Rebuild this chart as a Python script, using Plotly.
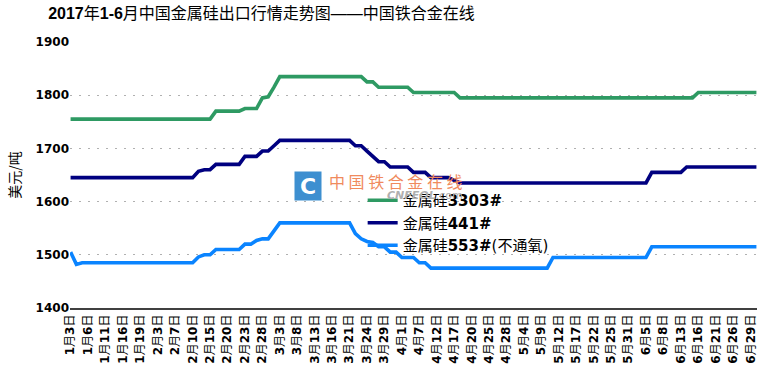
import plotly.graph_objects as go

dates = [
    "1月3日", "1月4日", "1月5日", "1月6日", "1月9日", "1月10日", "1月11日", "1月12日", "1月13日", "1月16日",
    "1月17日", "1月18日", "1月19日", "1月20日", "1月23日", "2月3日", "2月4日", "2月6日", "2月7日", "2月8日",
    "2月9日", "2月10日", "2月13日", "2月14日", "2月15日", "2月16日", "2月17日", "2月20日", "2月21日", "2月22日",
    "2月23日", "2月24日", "2月27日", "2月28日", "3月1日", "3月2日", "3月3日", "3月6日", "3月7日", "3月8日",
    "3月9日", "3月10日", "3月13日", "3月14日", "3月15日", "3月16日", "3月17日", "3月20日", "3月21日", "3月22日",
    "3月23日", "3月24日", "3月27日", "3月28日", "3月29日", "3月30日", "3月31日", "4月1日", "4月5日", "4月6日",
    "4月7日", "4月10日", "4月11日", "4月12日", "4月13日", "4月14日", "4月17日", "4月18日", "4月19日", "4月20日",
    "4月21日", "4月24日", "4月25日", "4月26日", "4月27日", "4月28日", "5月2日", "5月3日", "5月4日", "5月5日",
    "5月8日", "5月9日", "5月10日", "5月11日", "5月12日", "5月15日", "5月16日", "5月17日", "5月18日", "5月19日",
    "5月22日", "5月23日", "5月24日", "5月25日", "5月26日", "5月27日", "5月31日", "6月1日", "6月2日", "6月5日",
    "6月6日", "6月7日", "6月8日", "6月9日", "6月12日", "6月13日", "6月14日", "6月15日", "6月16日", "6月19日",
    "6月20日", "6月21日", "6月22日", "6月23日", "6月26日", "6月27日", "6月28日", "6月29日", "6月30日",
]

label_dates = [
    "1月3日", "1月6日", "1月11日", "1月16日", "1月19日", "2月3日", "2月7日", "2月10日", "2月15日", "2月20日",
    "2月23日", "2月28日", "3月3日", "3月8日", "3月13日", "3月16日", "3月21日", "3月24日", "3月29日", "4月1日",
    "4月7日", "4月12日", "4月17日", "4月20日", "4月25日", "4月28日", "5月4日", "5月9日", "5月12日", "5月17日",
    "5月22日", "5月25日", "5月31日", "6月5日", "6月8日", "6月13日", "6月16日", "6月21日", "6月26日", "6月29日",
]

si_3303 = (
    [1755] * 25 + [1770] * 5 + [1775] * 3 + [1795, 1797, 1815] + [1835] * 15 + [1825] * 2
    + [1815] * 6 + [1805] * 8 + [1795] * 41 + [1805] * 11
)
si_441 = (
    [1645] * 22 + [1657] + [1660] * 2 + [1670] * 5 + [1685] * 3 + [1695] * 2 + [1705] + [1715] * 13
    + [1705] * 2 + [1695, 1685] + [1675] * 2 + [1665] * 4 + [1655] * 3 + [1645] * 4 + [1640]
    + [1635] * 33 + [1655] * 6 + [1665] * 13
)
si_553 = (
    [1505, 1482] + [1485] * 20 + [1496] + [1500] * 2 + [1510] * 5 + [1520] * 2 + [1527] + [1530] * 2
    + [1545] + [1560] * 13 + [1540, 1530] + [1525, 1523] + [1515] * 2 + [1505] * 2 + [1495] * 3
    + [1485] * 2 + [1475] * 21 + [1495] * 17 + [1515] * 19
)

series_names = ["金属硅<b>3303#</b>", "金属硅<b>441#</b>", "金属硅<b>553#</b>(不通氧)"]
series_colors = ["#2e9a63", "#000080", "#0a84ff"]
y_ticks = [1400, 1500, 1600, 1700, 1800, 1900]


def fmt_date(s):
    m, rest = s.split("月")
    d = rest.replace("日", "")
    return f"<b>{m}</b>月<b>{d}</b>日"


fig = go.Figure()
for name, vals, col in zip(series_names, [si_3303, si_441, si_553], series_colors):
    fig.add_trace(go.Scatter(
        x=dates, y=vals, mode="lines", name=name,
        line=dict(color=col, width=3.6),
    ))

base_font = "DejaVu Sans, Verdana, Noto Sans CJK SC, sans-serif"

fig.update_layout(
    width=760, height=372,
    margin=dict(l=70, r=3, t=42, b=64),
    paper_bgcolor="white", plot_bgcolor="white",
    font=dict(family=base_font, color="#000000", size=12),
    title=dict(
        text="<b>2017</b>年<b>1-6</b>月中国金属硅出口行情走势图——中国铁合金在线",
        x=261.5 / 760, xanchor="center", y=1 - 13 / 372, yanchor="middle",
        font=dict(family="Liberation Sans Narrow, Liberation Sans, Noto Sans CJK SC, sans-serif",
                  size=16, color="#000000"),
    ),
    showlegend=True,
    legend=dict(
        x=0.426, y=0.466, xanchor="left", yanchor="top",
        bgcolor="rgba(0,0,0,0)", borderwidth=0,
        font=dict(family=base_font, size=15, color="#000000"),
        itemwidth=30, tracegroupgap=0,
    ),
    xaxis=dict(
        type="category", range=[-0.1, 118.1],
        tickmode="array", tickvals=label_dates, ticktext=[fmt_date(s) for s in label_dates],
        tickangle=-90, ticks="", showgrid=False,
        showline=True, linecolor="#404040", linewidth=1.5,
        tickfont=dict(family=base_font, size=12, color="#000000"),
        zeroline=False,
    ),
    xaxis2=dict(
        overlaying="x", anchor="y", side="bottom", type="linear",
        range=[-0.1, 118.1], tick0=0, dtick=5,
        ticks="outside", ticklen=5, tickwidth=1.3, tickcolor="#404040",
        showticklabels=False, showgrid=False, showline=False, zeroline=False,
    ),
    yaxis=dict(
        range=[1400, 1900], tickmode="array", tickvals=y_ticks,
        ticktext=[f"<b>{v}</b>" for v in y_ticks],
        showgrid=True, gridcolor="#b0b0b0", gridwidth=1, griddash="2px,7px",
        showline=False, zeroline=False, ticks="",
        tickfont=dict(family=base_font, size=12, color="#000000"),
        title=dict(text="美元/吨", standoff=11, font=dict(family="Noto Sans CJK SC, sans-serif", size=14)),
    ),
)

# watermark
fig.add_annotation(
    xref="paper", yref="paper", x=(308 - 70) / 687, y=(308 - 186) / 266,
    text="<b>C</b>", showarrow=False,
    font=dict(family="DejaVu Sans, sans-serif", size=22, color="white"),
    bgcolor="#3d8fd0", width=24, height=26, borderpad=1,
)
fig.add_annotation(
    xref="paper", yref="paper", x=(396 - 70) / 687, y=(308 - 181) / 266,
    text="中 国 铁 合 金 在 线", showarrow=False,
    font=dict(family="Noto Sans CJK SC, sans-serif", size=16, color="#f08a5d"),
)
fig.add_annotation(
    xref="paper", yref="paper", x=(425 - 70) / 687, y=(308 - 195) / 266,
    text="<b><i>CNFEOL</i></b>.com", showarrow=False,
    font=dict(family="DejaVu Sans, sans-serif", size=11, color="#b0b0b0"),
)

fig.write_html(
    "out.html",
    config={"displayModeBar": False},
    post_script="document.body.style.margin='0px';",
)
